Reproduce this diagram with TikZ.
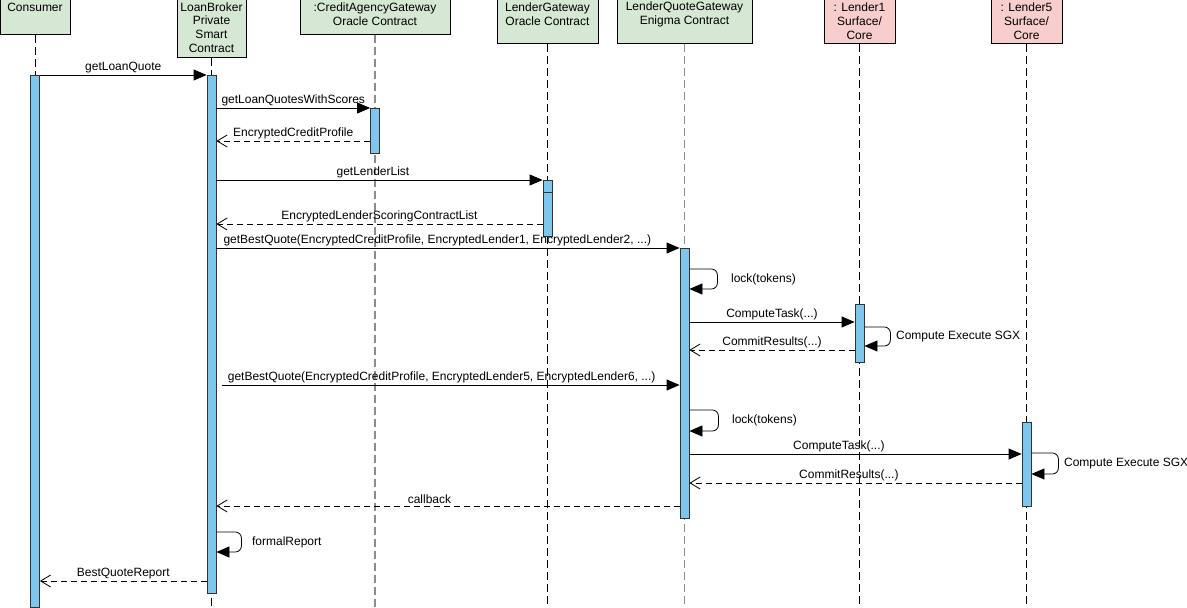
\documentclass[tikz,border=0pt]{standalone}
\usepackage{fontspec}
\setmainfont{Liberation Sans}
\usetikzlibrary{calc}
\usetikzlibrary{positioning}
\usetikzlibrary{arrows.meta}
\usepackage{xcolor}
\definecolor{hgreen}{RGB}{213,232,212}
\definecolor{hred}{RGB}{248,206,204}
\definecolor{barblue}{RGB}{126,198,236}

\begin{document}
\begin{tikzpicture}[x=1pt, y=-1pt,
	font=\fontsize{12}{13.8}\selectfont,
	g/.style = {rectangle, draw=black, fill=hgreen, line width=0.8pt, align=center, anchor=south, inner sep=0},
	rd/.style = {rectangle, draw=black, fill=hred, line width=0.8pt, align=center, anchor=south, inner sep=0},
	bar/.style = {rectangle, draw=black!80, fill=barblue, line width=0.8pt, minimum width=9, anchor=north, inner sep=0},
	life/.style = {line width=0.8pt, dash pattern=on 8pt off 4pt},
	lifeg/.style = {line width=1.3pt, draw=black!45, dash pattern=on 8pt off 4pt},
	m/.style = {-{Triangle[length=13pt,width=11pt]}, line width=0.8pt},
	rt/.style = {-{Straight Barb[length=10pt,width=12pt]}, line width=0.8pt, dash pattern=on 6pt off 4pt},
	sm/.style = {m, rounded corners=6pt},
	lbl/.style = {above, inner sep=2pt}
	]
	\useasboundingbox (0,0) rectangle (1187,608);
	\clip (0,0) rectangle (1187,608);
	
	% === === Heads === ===
	\node[g, minimum width=70, minimum height=55]	(consumer)	at	(35, 35)	{Consumer};
	\node[g, minimum width=69, minimum height=60]	(broker)	at	(211.5, 58)	{LoanBroker\\Private\\Smart\\Contract};
	\node[g, minimum width=150, minimum height=41]	(credit)	at	(375, 35)	{:CreditAgencyGateway\\Oracle Contract};
	\node[g, minimum width=101, minimum height=59]	(lgw)	at	(547.5, 44)	{LenderGateway\\Oracle Contract};
	\node[g, minimum width=135, minimum height=59]	(lqg)	at	(684.5, 44)	{LenderQuoteGateway\\Enigma Contract};
	\node[rd, minimum width=71, minimum height=45]	(lender1)	at	(859.5, 44)	{: Lender1\\Surface/\\Core};
	\node[rd, minimum width=71, minimum height=45]	(lender5)	at	(1026.5, 44)	{: Lender5\\Surface/\\Core};
	
	% === === Lifelines === ===
	\draw[life]		(consumer.south)	--	(consumer.south |- 0,608);
	\draw[life]		(broker.south)		--	(broker.south |- 0,608);
	\draw[lifeg]	(credit.south)		--	(credit.south |- 0,608);
	\draw[life]		(lgw.south)			--	(lgw.south |- 0,608);
	\draw[lifeg]	(lqg.south)			--	(lqg.south |- 0,608);
	\draw[life]		(lender1.south)		--	(lender1.south |- 0,608);
	\draw[life]		(lender5.south)		--	(lender5.south |- 0,608);
	
	% === === Bars === ===
	\node[bar, minimum height=532]	(bc)	at	(35, 75)		{};
	\node[bar, minimum height=518]	(bb)	at	(211.5, 75)		{};
	\node[bar, minimum height=45]	(bca)	at	(375, 108)		{};
	\node[bar, minimum height=12]	(blg1)	at	(547.5, 180)	{};
	\node[bar, minimum height=44]	(blg2)	at	(547.5, 192)	{};
	\node[bar, minimum height=270]	(bq)	at	(684.5, 248)	{};
	\node[bar, minimum height=58]	(bl1)	at	(859.5, 304)	{};
	\node[bar, minimum height=84]	(bl5)	at	(1026.5, 422)	{};
	\coordinate	(q2start)	at	(222, 385);
	
	% === === Messages === ===
	\draw[m]	(bc.east |- 0,75)	to	node[lbl]	{getLoanQuote}	(bb.west |- 0,75);
	\draw[m]	(bb.east |- 0,108)	to	node[lbl]	{getLoanQuotesWithScores}	(bca.west |- 0,108);
	\draw[rt]	(bca.west |- 0,141)	to	node[lbl]	{EncryptedCreditProfile}	(bb.east |- 0,141);
	\draw[m]	(bb.east |- 0,180)	to	node[lbl, pos=0.48]	{getLenderList}	(blg1.west |- 0,180);
	\draw[rt]	(blg2.west |- 0,224)	to	node[lbl]	{EncryptedLenderScoringContractList}	(bb.east |- 0,224);
	\draw[m]	(bb.east |- 0,248)	to	node[lbl, pos=0.477]	{getBestQuote(EncryptedCreditProfile, EncryptedLender1, EncryptedLender2, ...)}	(bq.west |- 0,248);
	\draw[sm]	(bq.east |- 0,269)	--	++(28,0)	--	node[right=10pt]	{lock(tokens)}	++(0,20)	--	(bq.east |- 0,289);
	\draw[m]	(bq.east |- 0,322)	to	node[lbl]	{ComputeTask(...)}	(bl1.west |- 0,322);
	\draw[sm]	(bl1.east |- 0,327)	--	++(26,0)	--	node[right=2pt]	{Compute Execute SGX}	++(0,19)	--	(bl1.east |- 0,346);
	\draw[rt]	(bl1.west |- 0,350)	to	node[lbl]	{CommitResults(...)}	(bq.east |- 0,350);
	\draw[m]	(q2start)	to	node[lbl, pos=0.48]	{getBestQuote(EncryptedCreditProfile, EncryptedLender5, EncryptedLender6, ...)}	(bq.west |- q2start);
	\draw[sm]	(bq.east |- 0,410)	--	++(29,0)	--	node[right=10pt]	{lock(tokens)}	++(0,21)	--	(bq.east |- 0,431);
	\draw[m]	(bq.east |- 0,454)	to	node[lbl, pos=0.45]	{ComputeTask(...)}	(bl5.west |- 0,454);
	\draw[sm]	(bl5.east |- 0,453)	--	++(27,0)	--	node[right=2pt]	{Compute Execute SGX}	++(0,21)	--	(bl5.east |- 0,474);
	\draw[rt]	(bl5.west |- 0,483)	to	node[lbl, pos=0.52]	{CommitResults(...)}	(bq.east |- 0,483);
	\draw[rt]	(bq.west |- 0,506)	to	node[lbl, pos=0.54]	{callback}	(bb.east |- 0,506);
	\draw[sm]	(bb.east |- 0,532)	--	++(25,0)	--	node[right=7pt]	{formalReport}	++(0,20)	--	(bb.east |- 0,552);
	\draw[rt]	(bb.west |- 0,581)	to	node[lbl]	{BestQuoteReport}	(bc.east |- 0,581);
	
\end{tikzpicture}
\end{document}
